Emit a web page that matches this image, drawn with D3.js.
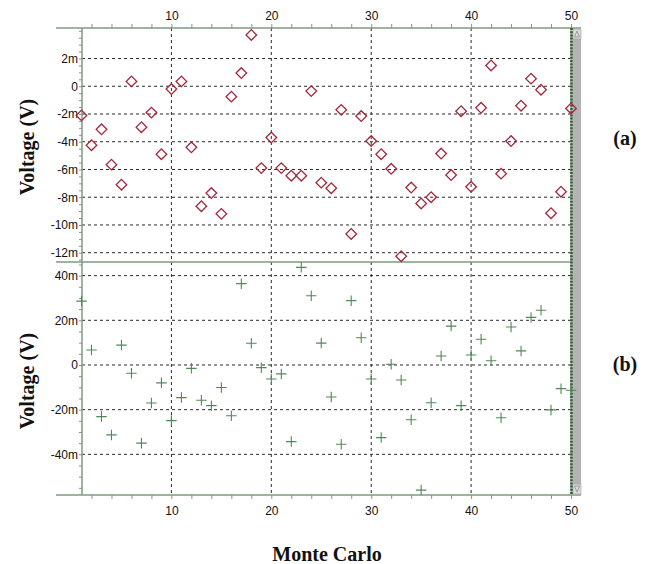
<!DOCTYPE html>
<html>
<head>
<meta charset="utf-8">
<script src="https://cdn.jsdelivr.net/npm/d3@7"></script>
<style>
  html, body { margin: 0; padding: 0; background: #fff; }
  svg { display: block; }
  .tick text { font-family: "Liberation Sans Narrow", "Liberation Sans", Arial, sans-serif; font-size: 12px; fill: #111; }
  .tick line { stroke: #7f9a7f; }
  .title { font-family: "Liberation Serif", "Times New Roman", serif; font-weight: bold; font-size: 20px; fill: #111; }
</style>
</head>
<body>
<svg id="chart" width="649" height="564"></svg>
<script>
// Monte Carlo run index
const runs = d3.range(1, 51);

// Panel (a): output voltage per run, in mV
const voltageA = [
  -2.1, -4.25, -3.1, -5.65, -7.1, 0.35, -2.95, -1.9, -4.9, -0.2,
  0.35, -4.4, -8.65, -7.7, -9.2, -0.75, 0.95, 3.7, -5.9, -3.7,
  -5.9, -6.45, -6.45, -0.35, -6.95, -7.35, -1.7, -10.65, -2.15, -3.95,
  -4.9, -5.95, -12.25, -7.3, -8.45, -8.0, -4.85, -6.4, -1.8, -7.25,
  -1.55, 1.5, -6.3, -3.95, -1.4, 0.55, -0.25, -9.15, -7.6, -1.6
];

// Panel (b): output voltage per run, in mV
const voltageB = [
  28.6, 6.7, -23.1, -31.3, 8.9, -3.7, -35.0, -17.0, -8.0, -24.9,
  -14.6, -1.5, -15.8, -18.2, -10.1, -22.7, 36.4, 9.7, -1.2, -6.3,
  -4.0, -34.3, 43.7, 31.0, 9.8, -14.3, -35.5, 28.8, 12.2, -6.3,
  -32.5, 0.3, -6.7, -24.5, -56.0, -16.9, 4.0, 17.4, -18.2, 4.5,
  11.5, 1.9, -23.6, 17.0, 6.3, 21.3, 24.5, -20.1, -10.6, -11.3
];

// Axis labels
const xLabelTicks = [10, 20, 30, 40, 50];
const yTicksA = [2, 0, -2, -4, -6, -8, -10, -12];
const yTicksB = [40, 20, 0, -20, -40];
const xGridTicks = [10, 20, 30, 40];

const svg = d3.select("#chart");

// Layout
const plotLeft = 82, plotRight = 571, axisStart = 56, axisEnd = 581;
const topY = 28, midY = 262, bottomY = 495;

const x = d3.scaleLinear().domain([1, 50]).range([81.5, 571]);
const yA = d3.scaleLinear().domain([-12.67, 4.2]).range([midY, topY]);
const yB = d3.scaleLinear().domain([-58.2, 46.1]).range([bottomY, midY]);

const fmtMilli = v => v === 0 ? "0" : (v < 0 ? "-" : "") + Math.abs(v) + "m";
const axisColor = "#7f9a7f";
const gridColor = "#2a2a2a";

// Horizontal grid lines
function hGrid(scale, values) {
  svg.append("g").selectAll("line").data(values).join("line")
    .attr("x1", plotLeft).attr("x2", plotRight)
    .attr("y1", d => scale(d)).attr("y2", d => scale(d))
    .attr("stroke", gridColor).attr("stroke-width", 1)
    .attr("stroke-dasharray", "3,3");
}
hGrid(yA, yTicksA);
hGrid(yB, yTicksB);

// Vertical grid lines through both panels
svg.append("g").selectAll("line").data(xGridTicks).join("line")
  .attr("x1", d => x(d)).attr("x2", d => x(d))
  .attr("y1", topY).attr("y2", bottomY)
  .attr("stroke", gridColor).attr("stroke-width", 1)
  .attr("stroke-dasharray", "3,3");

// Top and bottom x axes (minor ticks every 2 runs, labels every 10)
const xTickVals = d3.range(2, 51, 2);
const xFmt = d => xLabelTicks.includes(d) ? d : "";
const gTop = svg.append("g").attr("transform", `translate(0,${topY})`)
  .call(d3.axisTop(x).tickValues(xTickVals).tickFormat(xFmt).tickSize(4).tickPadding(4));
const gBot = svg.append("g").attr("transform", `translate(0,${bottomY})`)
  .call(d3.axisBottom(x).tickValues(xTickVals).tickFormat(xFmt).tickSize(4).tickPadding(7));
[gTop, gBot].forEach(g => g.select(".domain").remove());

// Left y axes with minor ticks
const gA = svg.append("g").attr("transform", `translate(${plotLeft},0)`)
  .call(d3.axisLeft(yA).tickValues(d3.range(-12.5, 4.01, 0.5))
    .tickFormat(d => yTicksA.includes(d) ? fmtMilli(d) : "").tickSize(3).tickPadding(1));
const gB = svg.append("g").attr("transform", `translate(${plotLeft},0)`)
  .call(d3.axisLeft(yB).tickValues(d3.range(-55, 46, 5))
    .tickFormat(d => yTicksB.includes(d) ? fmtMilli(d) : "").tickSize(3).tickPadding(1));
[gA, gB].forEach(g => g.select(".domain").remove());
svg.selectAll(".tick text").attr("font-family", null).attr("font-size", null);

// Frame lines
svg.append("line").attr("x1", axisStart).attr("x2", axisEnd).attr("y1", topY).attr("y2", topY)
  .attr("stroke", axisColor).attr("stroke-width", 1.5);
svg.append("line").attr("x1", axisStart).attr("x2", plotRight).attr("y1", midY).attr("y2", midY)
  .attr("stroke", axisColor).attr("stroke-width", 1.5);
svg.append("line").attr("x1", axisStart).attr("x2", axisEnd).attr("y1", bottomY).attr("y2", bottomY)
  .attr("stroke", axisColor).attr("stroke-width", 1.5);
svg.append("line").attr("x1", plotLeft).attr("x2", plotLeft).attr("y1", topY).attr("y2", bottomY)
  .attr("stroke", axisColor).attr("stroke-width", 1.5);

// Scroll bar on the right edge
svg.append("rect").attr("x", 573).attr("y", topY + 1).attr("width", 8).attr("height", bottomY - topY - 1)
  .attr("fill", "#b3b3b3");
svg.append("rect").attr("x", 573).attr("y", topY + 1).attr("width", 8).attr("height", 10)
  .attr("fill", "#dcdcdc").attr("stroke", "#9a9a9a").attr("stroke-width", 0.6);
svg.append("path").attr("d", `M574.5,${topY + 9} L577,${topY + 3} L579.5,${topY + 9} Z`)
  .attr("fill", "none").attr("stroke", "#8a8a8a").attr("stroke-width", 0.8);
svg.append("rect").attr("x", 573).attr("y", bottomY - 11).attr("width", 8).attr("height", 10)
  .attr("fill", "#dcdcdc").attr("stroke", "#9a9a9a").attr("stroke-width", 0.6);
svg.append("path").attr("d", `M574.5,${bottomY - 9} L577,${bottomY - 3} L579.5,${bottomY - 9} Z`)
  .attr("fill", "none").attr("stroke", "#8a8a8a").attr("stroke-width", 0.8);
svg.append("line").attr("x1", plotRight + 0.5).attr("x2", plotRight + 0.5).attr("y1", topY).attr("y2", bottomY)
  .attr("stroke", "#9fb39f").attr("stroke-width", 2.5);
svg.append("line").attr("x1", plotRight + 0.5).attr("x2", plotRight + 0.5).attr("y1", topY).attr("y2", bottomY)
  .attr("stroke", "#34583a").attr("stroke-width", 2.5).attr("stroke-dasharray", "2,1.2");

// Panel (a) markers: hollow diamonds
svg.append("g").selectAll("path").data(runs).join("path")
  .attr("d", d3.symbol(d3.symbolSquare, 56))
  .attr("transform", (d, i) => `translate(${x(d)},${yA(voltageA[i])}) rotate(45)`)
  .attr("fill", "none").attr("stroke", "#a3283a").attr("stroke-width", 1.3);

// Panel (b) markers: thin plus signs
const plus = {
  draw(ctx, size) {
    const r = Math.sqrt(size) / 2;
    ctx.moveTo(-r, 0); ctx.lineTo(r, 0);
    ctx.moveTo(0, -r); ctx.lineTo(0, r);
  }
};
svg.append("g").selectAll("path").data(runs).join("path")
  .attr("d", d3.symbol(plus, 110))
  .attr("transform", (d, i) => `translate(${x(d)},${yB(voltageB[i])})`)
  .attr("fill", "none").attr("stroke", "#4f8a55").attr("stroke-width", 1.1);

// Titles
svg.append("text").attr("class", "title")
  .attr("transform", "translate(34,147) rotate(-90)").attr("text-anchor", "middle")
  .text("Voltage (V)");
svg.append("text").attr("class", "title")
  .attr("transform", "translate(34,381) rotate(-90)").attr("text-anchor", "middle")
  .text("Voltage (V)");
svg.append("text").attr("class", "title")
  .attr("x", 327).attr("y", 561).attr("text-anchor", "middle").text("Monte Carlo");
svg.append("text").attr("class", "title")
  .attr("x", 625).attr("y", 145).attr("text-anchor", "middle").text("(a)");
svg.append("text").attr("class", "title")
  .attr("x", 625).attr("y", 371).attr("text-anchor", "middle").text("(b)");
</script>
</body>
</html>
